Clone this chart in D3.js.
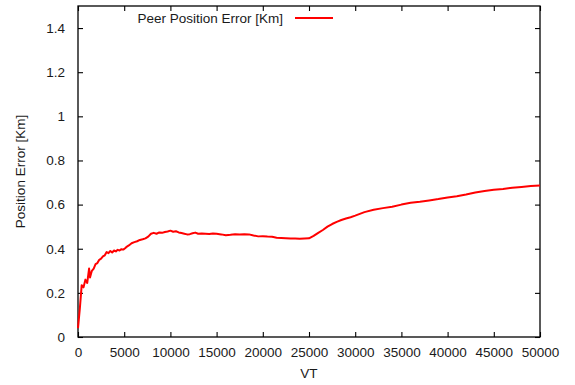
<!DOCTYPE html>
<html>
<head>
<meta charset="utf-8">
<script src="https://cdn.jsdelivr.net/npm/d3@7"></script>
<style>
  html, body { margin: 0; padding: 0; background: #fff; }
  svg { display: block; font-family: "Liberation Sans", Arial, sans-serif; }
</style>
</head>
<body>
<svg id="chart" width="575" height="385"></svg>
<script>
// Virtual time samples and the peer position error measured at each
const vt = [0,200,400,600,800,1000,1200,1300,1500,1700,1900,2100,2300,2500,2700,2900,
  3100,3300,3500,3700,3900,4100,4300,4500,4700,4900,5100,5300,5500,5800,6100,6400,6700,
  7000,7300,7600,7900,8200,8500,8800,9100,9400,9700,10000,10300,10600,10900,11200,11500,
  11800,12100,12400,12700,13000,13400,13800,14200,14600,15000,15500,16000,16500,17000,
  17500,18000,18500,19000,19500,20000,20500,21000,21500,22000,22500,23000,23500,24000,
  24500,25000,25500,26000,26500,27000,27500,28000,28500,29000,29500,30000,31000,32000,
  33000,34000,35000,36000,37000,38000,39000,40000,41000,42000,43000,44000,45000,46000,
  47000,48000,49000,50000];
const peerError = [0.04,0.13,0.235,0.225,0.26,0.245,0.31,0.27,0.30,0.31,0.33,0.335,0.35,
  0.355,0.365,0.37,0.385,0.38,0.39,0.383,0.392,0.388,0.395,0.392,0.398,0.396,0.402,0.41,
  0.415,0.425,0.43,0.434,0.44,0.443,0.447,0.455,0.468,0.472,0.468,0.474,0.472,0.476,0.478,
  0.482,0.477,0.479,0.474,0.471,0.468,0.465,0.466,0.47,0.473,0.468,0.469,0.468,0.467,0.469,
  0.468,0.465,0.461,0.463,0.466,0.464,0.466,0.465,0.46,0.456,0.457,0.455,0.454,0.45,0.449,
  0.448,0.446,0.446,0.445,0.446,0.447,0.458,0.472,0.485,0.5,0.512,0.522,0.53,0.537,0.543,
  0.55,0.566,0.577,0.584,0.59,0.6,0.608,0.613,0.619,0.625,0.632,0.638,0.646,0.655,0.662,
  0.667,0.671,0.676,0.68,0.684,0.686];

const xTicks = [0,5000,10000,15000,20000,25000,30000,35000,40000,45000,50000];
const yTicks = [0,0.2,0.4,0.6,0.8,1,1.2,1.4];
const seriesName = "Peer Position Error [Km]";

const svg = d3.select("#chart");
const plotL = 78, plotR = 540, plotT = 6, plotB = 337;

const x = d3.scaleLinear().domain([0, 50000]).range([plotL, plotR]);
const y = d3.scaleLinear().domain([0, 1.5]).range([plotB, plotT]);

const textColor = "#1a1a1a";
const fontSize = 13.5;
const tickLen = 5;

// inward ticks on all four sides
const axisStyle = g => {
  g.select(".domain").remove();
  g.selectAll(".tick line").attr("stroke", "#000").attr("stroke-width", 1.1);
  g.selectAll(".tick text").attr("fill", textColor).attr("font-size", fontSize)
    .attr("font-family", "'Liberation Sans', Arial, sans-serif");
};

svg.append("g").attr("transform", `translate(0,${plotB})`)
  .call(d3.axisBottom(x).tickValues(xTicks).tickFormat(d3.format("d"))
    .tickSizeInner(-tickLen).tickSizeOuter(0).tickPadding(10))
  .call(axisStyle);

svg.append("g").attr("transform", `translate(0,${plotT})`)
  .call(d3.axisTop(x).tickValues(xTicks).tickFormat("").tickSizeInner(-tickLen).tickSizeOuter(0))
  .call(axisStyle);

svg.append("g").attr("transform", `translate(${plotL},0)`)
  .call(d3.axisLeft(y).tickValues(yTicks).tickFormat(d => String(+d.toFixed(1)))
    .tickSizeInner(-tickLen).tickSizeOuter(0).tickPadding(13))
  .call(axisStyle);

svg.append("g").attr("transform", `translate(${plotR},0)`)
  .call(d3.axisRight(y).tickValues(yTicks).tickFormat("").tickSizeInner(-tickLen).tickSizeOuter(0))
  .call(axisStyle);

// frame
svg.append("rect")
  .attr("x", plotL).attr("y", plotT)
  .attr("width", plotR - plotL).attr("height", plotB - plotT)
  .attr("fill", "none").attr("stroke", "#000").attr("stroke-width", 1.3);

// series line
const pts = vt.map((v, i) => [v, peerError[i]]);
svg.append("path")
  .datum(pts)
  .attr("fill", "none")
  .attr("stroke", "#ff0000")
  .attr("stroke-width", 2)
  .attr("stroke-linejoin", "round")
  .attr("d", d3.line().x(d => x(d[0])).y(d => y(d[1])));

// axis titles
svg.append("text")
  .attr("x", (plotL + plotR) / 2).attr("y", 378)
  .attr("text-anchor", "middle").attr("font-size", fontSize).attr("fill", textColor)
  .text("VT");

svg.append("text")
  .attr("transform", `translate(25,${(plotT + plotB) / 2}) rotate(-90)`)
  .attr("text-anchor", "middle").attr("font-size", fontSize).attr("fill", textColor)
  .text("Position Error [Km]");

// key
svg.append("text")
  .attr("x", 283).attr("y", 22.5)
  .attr("text-anchor", "end").attr("font-size", fontSize).attr("fill", textColor)
  .text(seriesName);
svg.append("line")
  .attr("x1", 295).attr("x2", 333).attr("y1", 18).attr("y2", 18)
  .attr("stroke", "#ff0000").attr("stroke-width", 2);
</script>
</body>
</html>
